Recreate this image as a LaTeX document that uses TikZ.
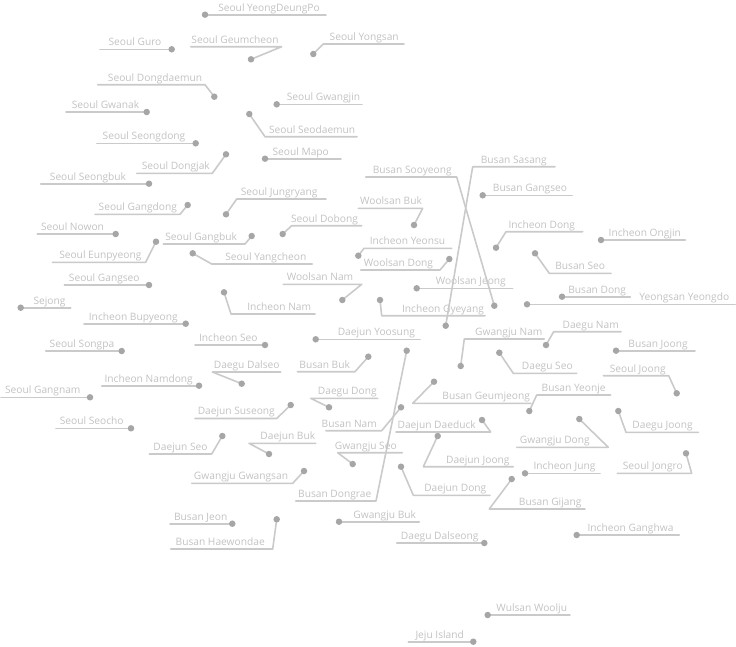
\documentclass[tikz,border=0pt]{standalone}
\usepackage{fontspec}
\setmainfont{Open Sans}
\definecolor{txtc}{HTML}{C2C2C2}
\definecolor{linec}{HTML}{CACACA}
\definecolor{dotc}{HTML}{A6A6A6}
\tikzset{
  lbltxt/.style={anchor=south, inner xsep=0pt, inner ysep=1pt, text height=7.4pt, text depth=2.5pt, text=txtc, font=\fontsize{10.2}{12}\selectfont},
  ulink/.style={draw=linec, line width=1.6pt, line join=round, line cap=round},
  dotn/.style={circle, fill=dotc, inner sep=0pt, minimum size=6.5pt},
}
% #1 name, #2 text, #3 text centre x, #4 underline y, #5 x1, #6 x2, #7 #8 dot
\newcommand\lblW[8]{%
  \coordinate (#1-a) at (#5,#4);
  \coordinate (#1-b) at (#6,#4);
  \coordinate (#1-d) at (#7,#8);
  \node[lbltxt] (#1) at (#3,#4) {#2};
  \draw[ulink] (#1-d) -- (#1-a) -- (#1-b);
  \node[dotn] (#1-dot) at (#1-d) {};
}
\newcommand\lblE[8]{%
  \coordinate (#1-a) at (#5,#4);
  \coordinate (#1-b) at (#6,#4);
  \coordinate (#1-d) at (#7,#8);
  \node[lbltxt] (#1) at (#3,#4) {#2};
  \draw[ulink] (#1-d) -- (#1-b) -- (#1-a);
  \node[dotn] (#1-dot) at (#1-d) {};
}
\begin{document}
\begin{tikzpicture}[x=1pt,y=-1pt]
\useasboundingbox (0,0) rectangle (736,646);
% horizontal connectors
\lblE{guro}{Seoul Guro}{135}{49.3}{100}{166}{171.7}{49.3}
\lblE{gwanak}{Seoul Gwanak}{105.5}{112}{66}{144}{146.7}{112}
\lblE{seongdong}{Seoul Seongdong}{144}{143.3}{96.7}{191}{195.7}{143.3}
\lblE{seongbuk}{Seoul Seongbuk}{88}{183.7}{40.7}{132}{149}{183.7}
\lblE{nowon}{Seoul Nowon}{72.5}{234}{37.3}{109}{115.7}{234}
\lblE{sgangseo}{Seoul Gangseo}{104.3}{285}{64.3}{145}{149}{285}
\lblW{sejong}{Sejong}{49.5}{307.7}{28}{70.7}{20.7}{307.7}
\lblE{bupyeong}{Incheon Bupyeong}{133.3}{323.7}{84}{183}{185.7}{323.7}
\lblE{songpa}{Seoul Songpa}{82}{351}{45.7}{119}{121.7}{351}
\lblE{namdong}{Incheon Namdong}{148.7}{385.7}{101.7}{197}{199}{385.7}
\lblE{gangnam}{Seoul Gangnam}{42.8}{397.3}{1}{85}{90}{397.3}
\lblE{seocho}{Seoul Seocho}{91.7}{428.3}{56}{128}{131}{428.3}
\lblE{bjeon}{Busan Jeon}{200.7}{523.7}{170}{231}{232.3}{523.7}
\lblW{gjbuk}{Gwangju Buk}{384.7}{521.7}{349}{419.3}{339}{521.7}
\lblE{dalseong}{Daegu Dalseong}{439.7}{543}{396.7}{482}{484.3}{543}
\lblW{yoosung}{Daejun Yoosung}{376.3}{339.3}{333}{420}{315.7}{339.3}
\lblE{icseo}{Incheon Seo}{228.3}{345}{195}{262}{265}{345}
\lblW{gwangjin}{Seoul Gwangjin}{323.5}{104.3}{282}{362}{276.7}{104.3}
\lblW{mapo}{Seoul Mapo}{300.7}{158.7}{268}{341}{265}{158.7}
\lblW{ydp}{Seoul YeongDeungPo}{269}{14.7}{212}{326}{205}{14.7}
\lblW{icjung}{Incheon Jung}{564.5}{473.3}{528}{600}{525}{473.3}
\lblW{ganghwa}{Incheon Ganghwa}{630.5}{535}{582}{679.3}{576.7}{535}
\lblW{bjoong}{Busan Joong}{658}{350.7}{622}{695}{616}{350.7}
\lblW{yeongdo}{Yeongsan Yeongdo}{684.3}{304.3}{634}{735.3}{527}{304.3}
\lblW{bdong}{Busan Dong}{597.2}{296.7}{564}{630.3}{562}{296.7}
\lblW{ongjin}{Incheon Ongjin}{644.8}{240}{604}{685.3}{601}{240}
\lblW{bgangseo}{Busan Gangseo}{530}{195.3}{488}{572.3}{482.7}{195.3}
\lblW{wjeong}{Woolsan Jeong}{470.8}{288.3}{429}{512.7}{416.7}{288.3}
\lblW{woolju}{Wulsan Woolju}{531.7}{615}{491}{570}{487.7}{615}
\lblE{jeju}{Jeju Island}{439.7}{641.7}{408.3}{469}{473.3}{641.7}
% bent connectors
\lblE{geumcheon}{Seoul Geumcheon}{235}{46.7}{190.7}{281.7}{251}{59.3}
\lblW{yongsan}{Seoul Yongsan}{364.2}{44}{323.3}{404}{313.3}{54}
\lblE{dongdaemun}{Seoul Dongdaemun}{155}{84.7}{97.7}{205}{214.3}{96.7}
\lblW{seodaemun}{Seoul Seodaemun}{312.2}{136.7}{265}{357}{249.3}{114}
\lblE{dongjak}{Seoul Dongjak}{175.8}{173.3}{136.7}{212.3}{226}{154.3}
\lblE{gangdong}{Seoul Gangdong}{137.8}{214.3}{95}{180}{187.7}{205}
\lblE{eunpyeong}{Seoul Eunpyeong}{100.3}{262.3}{52.3}{145.7}{156}{241.7}
\lblW{jungryang}{Seoul Jungryang}{279.2}{199}{236.7}{326}{226}{214.3}
\lblW{dobong}{Seoul Dobong}{324.5}{225.7}{291.7}{361.7}{282.7}{234}
\lblE{gangbuk}{Seoul Gangbuk}{201.2}{244}{163.3}{245}{251.7}{236}
\lblW{yangcheon}{Seoul Yangcheon}{265.8}{264}{211.7}{312.3}{192.7}{253.3}
\lblE{wbuk}{Woolsan Buk}{391}{208.3}{358.3}{422.7}{414}{225}
\lblW{yeonsu}{Incheon Yeonsu}{407.5}{248.3}{364}{451.7}{358.3}{255.7}
\lblE{wdong}{Woolsan Dong}{398.5}{270}{360.7}{440}{449.3}{259}
\lblW{gyeyang}{Incheon Gyeyang}{443}{315.7}{381.7}{485}{380}{300}
\lblE{wnam}{Woolsan Nam}{320}{284.3}{283.3}{361.7}{342.3}{300}
\lblW{icnam}{Incheon Nam}{279.2}{314}{231}{315}{224}{292.3}
\lblE{sooyeong}{Busan Sooyeong}{412.2}{177}{365.7}{456.7}{494.3}{305.7}
\lblW{sasang}{Busan Sasang}{513.8}{166.7}{472.7}{555}{445.7}{325.7}
\lblW{icdong}{Incheon Dong}{541.8}{231.7}{506}{582.7}{496}{247.7}
\lblW{bseo}{Busan Seo}{580.2}{273.3}{549.3}{611}{535}{253.3}
\lblW{dgnam}{Daegu Nam}{590.7}{331.7}{553.7}{621}{546}{345}
\lblW{dgseo}{Daegu Seo}{547.3}{373.3}{513.3}{576.7}{499.3}{352.7}
\lblW{gjnam}{Gwangju Nam}{508.8}{339}{464.3}{544.3}{460.7}{366}
\lblE{sjoong}{Seoul Joong}{637.7}{375.7}{603.3}{668.7}{676.7}{393.3}
\lblW{yeonje}{Busan Yeonje}{573.7}{395}{536.7}{610.7}{529.3}{411}
\lblW{geumjeong}{Busan Geumjeong}{486.2}{403.3}{412.7}{531}{434}{381.7}
\lblW{dgjoong}{Daegu Joong}{662.5}{432.3}{626}{698.3}{618.3}{411}
\lblE{gjdong}{Gwangju Dong}{554.8}{447.3}{516.7}{608.3}{579.3}{419}
\lblE{jongro}{Seoul Jongro}{652.8}{473.3}{617.3}{691.7}{686}{453.3}
\lblW{gijang}{Busan Gijang}{550.2}{509}{489.3}{585}{511.7}{479}
\lblW{djjoong}{Daejun Joong}{477.8}{466.7}{423.3}{513.3}{437.7}{436}
\lblE{daeduck}{Daejun Daeduck}{436.7}{432}{396}{490.7}{482}{420}
\lblW{djdong}{Daejun Dong}{455.3}{495.3}{413.3}{490}{401}{466.7}
\lblE{dongrae}{Busan Dongrae}{334.7}{501}{295.7}{376}{406.7}{350.7}
\lblE{haewondae}{Busan Haewondae}{220.2}{549}{170.7}{272.7}{276.7}{519.3}
\lblE{gwangsan}{Gwangju Gwangsan}{241}{483.3}{191.7}{292.7}{304}{471}
\lblE{bbuk}{Busan Buk}{324.7}{371.7}{297.3}{355}{368.3}{356.7}
\lblW{dalseo}{Daegu Dalseo}{246.7}{372}{212.3}{280.7}{241.7}{383.7}
\lblW{dgdong}{Daegu Dong}{347.3}{398.3}{310.7}{377.7}{329}{407.3}
\lblE{suseong}{Daejun Suseong}{236.3}{418.5}{195}{276.7}{290.7}{405}
\lblE{bnam}{Busan Nam}{349.3}{430.7}{326}{381.7}{401}{407.3}
\lblW{djbuk}{Daejun Buk}{287.8}{443.3}{249}{315.7}{269}{454}
\lblW{gjseo}{Gwangju Seo}{365.8}{452.7}{337.7}{402.3}{352.7}{464}
\lblE{djseo}{Daejun Seo}{180.5}{454}{149.3}{211.7}{222.3}{436}
\end{tikzpicture}
\end{document}
